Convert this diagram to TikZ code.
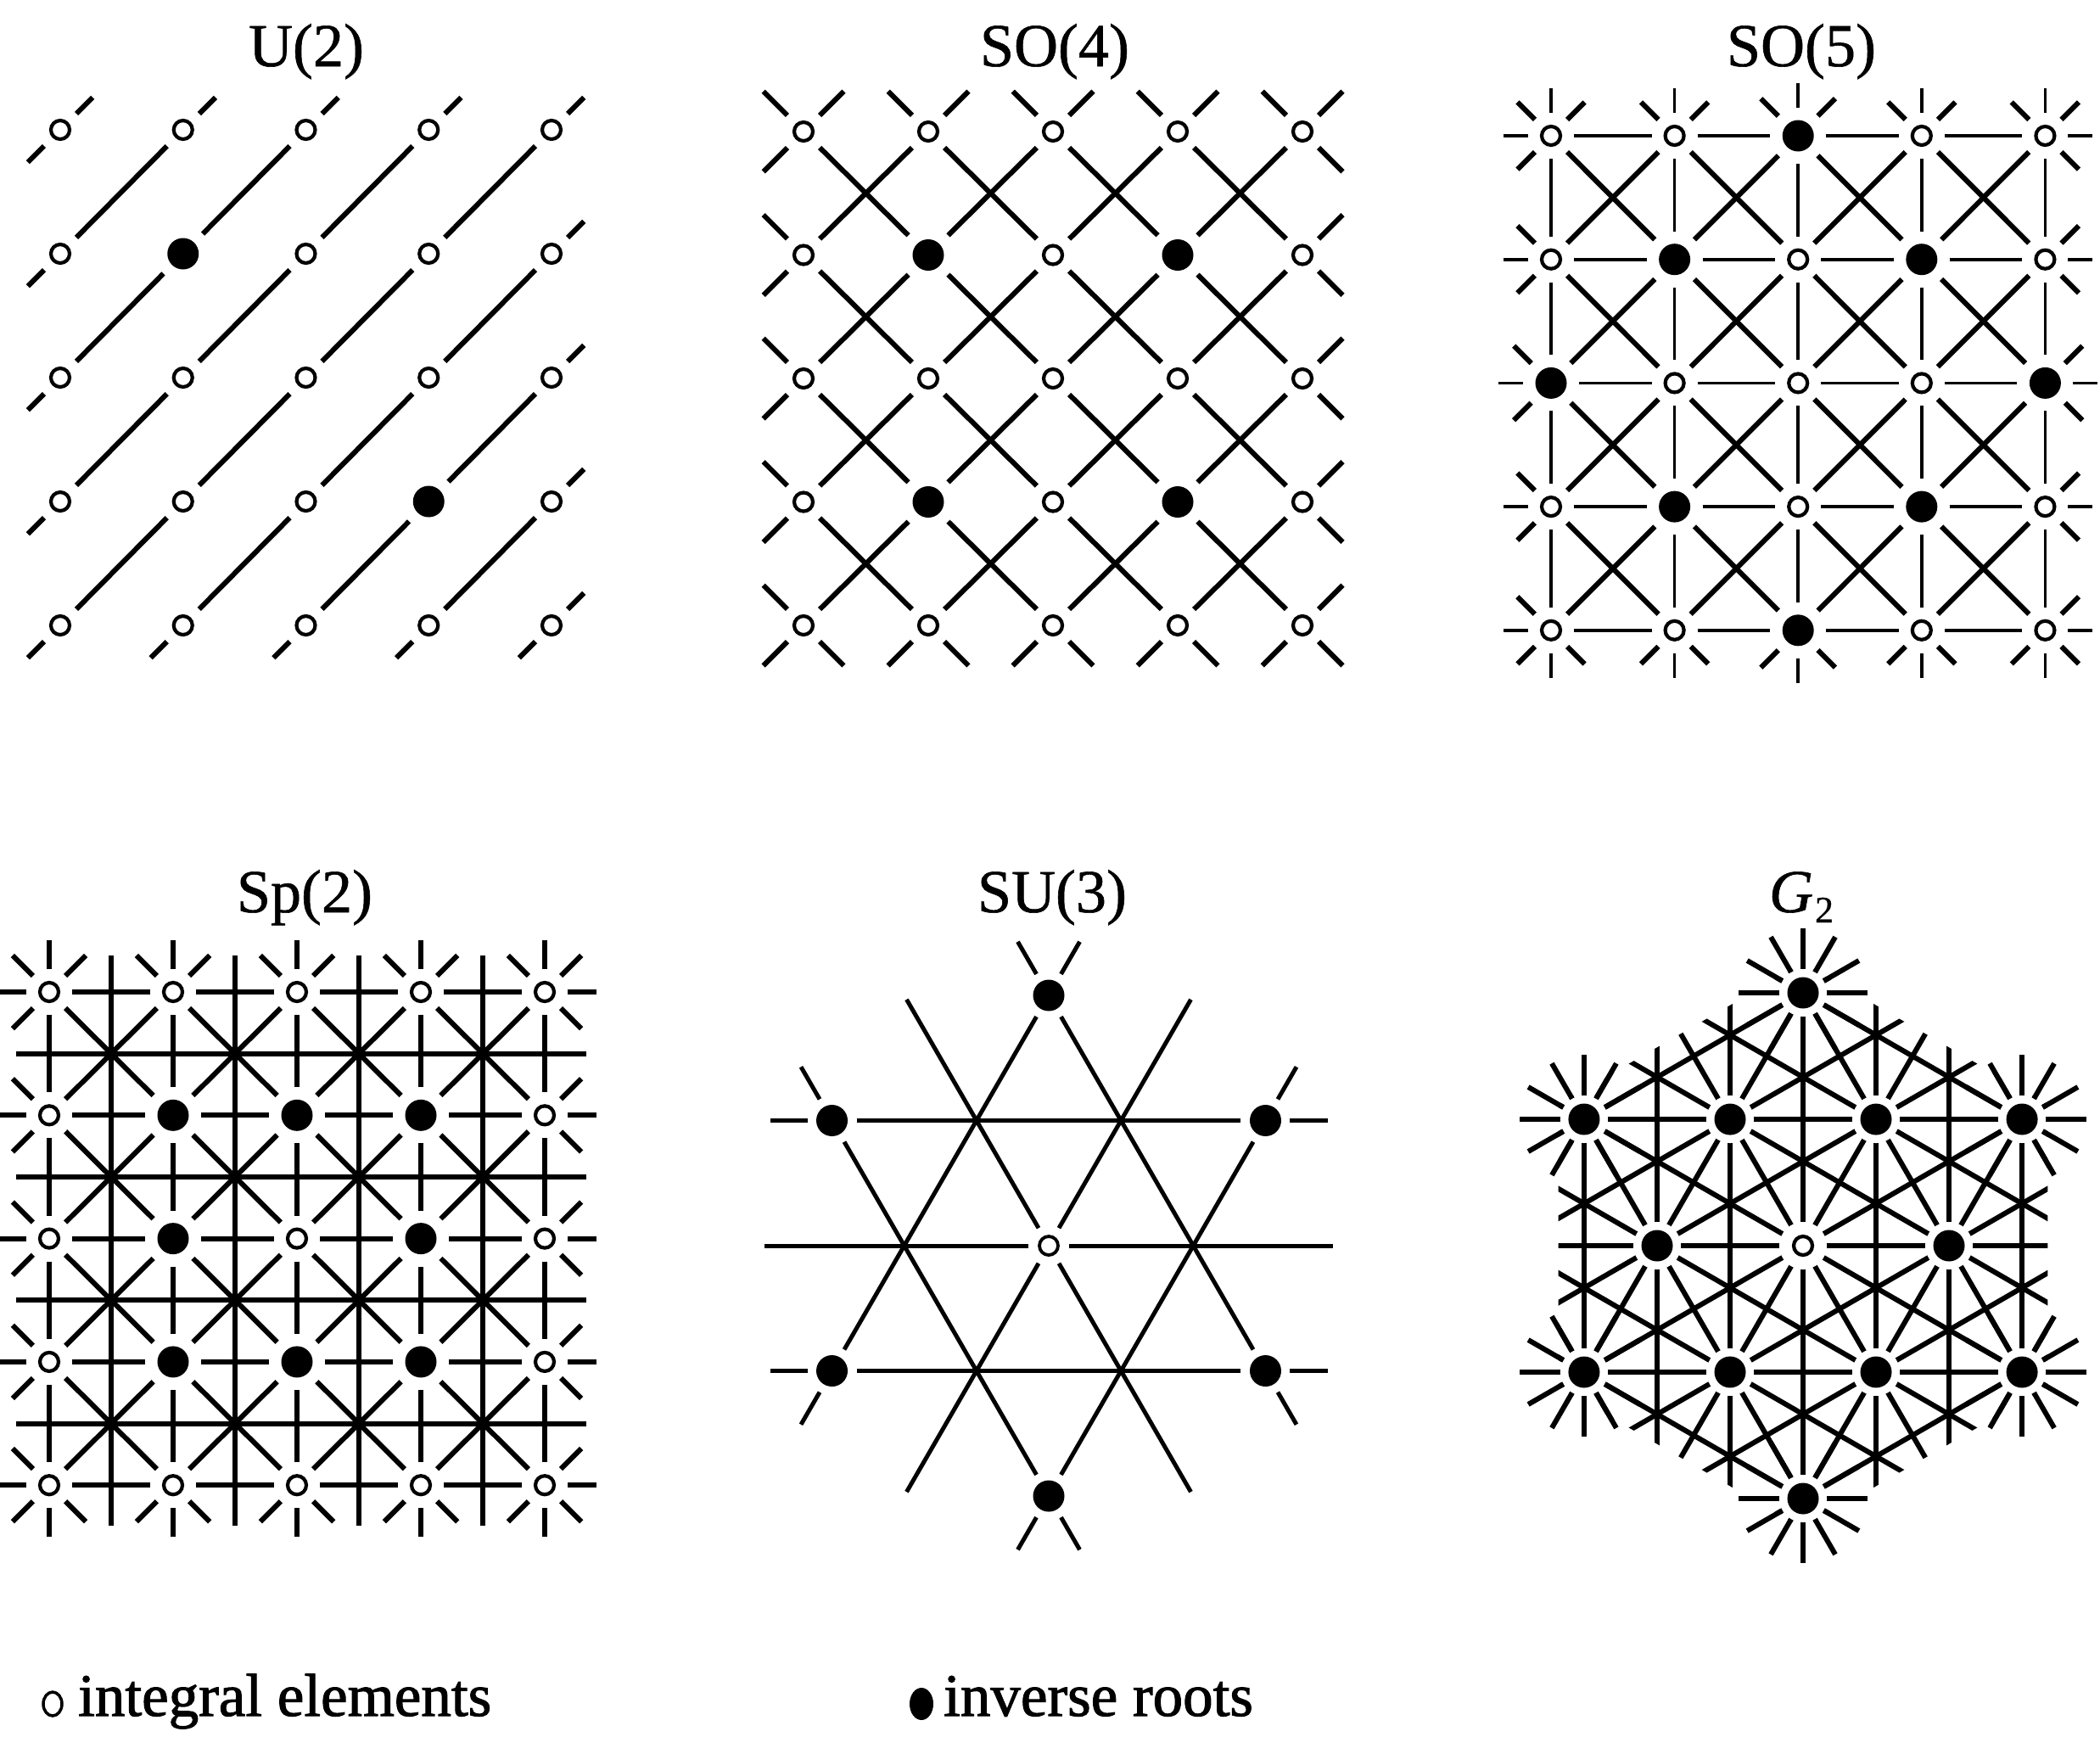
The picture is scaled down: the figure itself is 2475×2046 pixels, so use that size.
\documentclass[tikz,border=0pt]{standalone}
\usepackage{fontspec}
\setmainfont{Liberation Serif}
\newfontfamily\ttlfont{Liberation Serif}[FakeBold=0.8]
\newfontfamily\legfont{Liberation Serif}[FakeBold=1.5]
\usetikzlibrary{calc}
\tikzset{
  lat/.style={circle, minimum size=54pt, inner sep=0pt, outer sep=0pt},
  latf/.style={circle, minimum size=66pt, inner sep=0pt, outer sep=0pt},
  suf/.style={circle, minimum size=58pt, inner sep=0pt, outer sep=0pt},
  suo/.style={circle, minimum size=48pt, inner sep=0pt, outer sep=0pt},
  thk/.style={line width=6pt},
  thn/.style={line width=3.6pt},
  sul/.style={line width=5pt},
  opendot/.style={line width=4.2pt},
  gapw/.style={circle, fill=white, minimum size=56pt, inner sep=0pt},
  ttl/.style={font=\ttlfont\fontsize{72}{86}\selectfont, anchor=base, inner sep=0pt},
  leg/.style={font=\legfont\fontsize{71}{84}\selectfont, anchor=base west, inner sep=0pt},
}
\newcommand\stublen{27}
% prefix, x0, y0, sx, sy, filled list
\newcommand\placelattice[6]{%
  \foreach \i in {0,...,4}{\foreach \j in {0,...,4}{
    \node[lat] (#1-\i-\j) at ({#2+#4*\i},{-(#3+#5*\j)}) {};}}
  \foreach \i/\j in {#6}{
    \node[latf] (#1-\i-\j) at ({#2+#4*\i},{-(#3+#5*\j)}) {};}
}
% prefix, list di/dj/angle/style
\newcommand\latlines[2]{%
  \foreach \i in {0,...,4}{\foreach \j in {0,...,4}{
    \foreach \di/\dj/\ang/\sty in {#2}{
      \pgfmathtruncatemacro\ni{\i+\di}
      \pgfmathtruncatemacro\nj{\j+\dj}
      \pgfmathtruncatemacro\ok{and(and(\ni>-1,\ni<5),and(\nj>-1,\nj<5))}
      \pgfmathtruncatemacro\fwd{or(\di>0,and(\di==0,\dj>0))}
      \ifnum\ok=1
        \ifnum\fwd=1 \draw[\sty] (#1-\i-\j) -- (#1-\ni-\nj);\fi
      \else
        \draw[\sty] (#1-\i-\j.\ang) -- ++(\ang:\stublen);
      \fi
    }}}
}
% prefix, filled list
\newcommand\marklattice[2]{%
  \foreach \i in {0,...,4}{\foreach \j in {0,...,4}{
    \draw[opendot] (#1-\i-\j.center) circle (11);}}
  \foreach \i/\j in {#2}{
    \fill (#1-\i-\j.center) circle (18.5);}
}
\begin{document}
\begin{tikzpicture}[x=1pt,y=1pt]
\useasboundingbox (0,0) rectangle (2475,-2046);

% ---------------- titles
\node[ttl] (t-u2) at (361,-78) {U(2)};
\node[ttl] (t-so4) at (1243,-78) {SO(4)};
\node[ttl] (t-so5) at (2123,-78) {SO(5)};
\node[ttl] (t-sp2) at (359,-1075) {Sp(2)};
\node[ttl] (t-su3) at (1240,-1075) {SU(3)};
\node[ttl] (t-g2) at (2123,-1075) {\textit{G}\kern2pt\raisebox{-12pt}{\fontsize{44}{50}\selectfont 2}};

% ---------------- U(2)
\renewcommand\stublen{27}
\placelattice{A}{71}{153}{144.75}{146}{1/1,3/3}
\latlines{A}{1/-1/45/thk,-1/1/225/thk}
\marklattice{A}{1/1,3/3}

% ---------------- SO(4)
\renewcommand\stublen{40}
\placelattice{B}{947}{155}{147}{145.5}{1/1,3/1,1/3,3/3}
\latlines{B}{1/-1/45/thk,-1/1/225/thk,1/1/315/thk,-1/-1/135/thk}
\marklattice{B}{1/1,3/1,1/3,3/3}

% ---------------- SO(5)
\renewcommand\stublen{29}
\placelattice{C}{1828}{160}{145.6}{145.7}{2/0,1/1,3/1,0/2,4/2,1/3,3/3,2/4}
\latlines{C}{1/-1/45/thk,-1/1/225/thk,1/1/315/thk,-1/-1/135/thk,1/0/0/thn,-1/0/180/thn,0/1/270/thn,0/-1/90/thn}
\marklattice{C}{2/0,1/1,3/1,0/2,4/2,1/3,3/3,2/4}

% ---------------- Sp(2)
\renewcommand\stublen{34}
\foreach \j in {0,...,3}{
  \coordinate (D-h\j-l) at (19,{-(1169+145.3*(\j+0.5))});
  \coordinate (D-h\j-r) at (691,{-(1169+145.3*(\j+0.5))});
  \draw[thk] (D-h\j-l) -- (D-h\j-r);}
\foreach \i in {0,...,3}{
  \coordinate (D-v\i-t) at ({58+146*(\i+0.5)},-1126);
  \coordinate (D-v\i-b) at ({58+146*(\i+0.5)},-1798);
  \draw[thk] (D-v\i-t) -- (D-v\i-b);}
\placelattice{D}{58}{1169}{146}{145.3}{1/1,2/1,3/1,1/2,3/2,1/3,2/3,3/3}
\latlines{D}{1/-1/45/thk,-1/1/225/thk,1/1/315/thk,-1/-1/135/thk,1/0/0/thk,-1/0/180/thk,0/1/270/thk,0/-1/90/thk}
\marklattice{D}{1/1,2/1,3/1,1/2,3/2,1/3,2/3,3/3}

% ---------------- SU(3)
\coordinate (S) at (1236,-1468);
\node[suo] (s-O) at (S) {};
\foreach \a/\nm in {30/UR,90/T,150/UL,210/LL,270/B,330/LR}{
  \node[suf] (s-\nm) at ($(S)+(\a:295)$) {};}
\draw[sul] (s-UL) -- (s-UR);
\draw[sul] (s-LL) -- (s-LR);
\draw[sul] (s-T) -- (s-LL);
\draw[sul] (s-T) -- (s-LR);
\draw[sul] (s-UL) -- (s-B);
\draw[sul] (s-UR) -- (s-B);
\foreach \nm/\a in {UL/180,UL/120,UR/0,UR/60,LL/180,LL/240,LR/0,LR/300,T/60,T/120,B/240,B/300}{
  \draw[sul] (s-\nm.\a) -- ++(\a:44);}
\foreach \a in {0,60,120,180,240,300}{
  \coordinate (s-m\a) at ($(S)+(\a:335)$);
  \draw[sul] (s-m\a) -- (s-O);}
\foreach \nm in {UR,T,UL,LL,B,LR}{\fill (s-\nm.center) circle (18.5);}
\draw[line width=3.8pt] (s-O.center) circle (11);

% ---------------- G2
\coordinate (G) at (2125,-1468);
\begin{scope}
  \clip ($(G)+(30:333)$) -- ($(G)+(90:333)$) -- ($(G)+(150:333)$) -- ($(G)+(210:333)$) -- ($(G)+(270:333)$) -- ($(G)+(330:333)$) -- cycle;
  \foreach \th in {0,60,120}{\foreach \n in {-2,...,2}{
    \draw[thk, shift={(G)}, rotate=\th] (-420,{\n*149}) -- (420,{\n*149});}}
  \foreach \th in {30,90,150}{\foreach \n in {-3,...,3}{
    \draw[thk, shift={(G)}, rotate=\th] (-420,{\n*86}) -- (420,{\n*86});}}
\end{scope}
\node[gapw] (g-O) at (G) {};
\foreach \k in {0,...,5}{
  \pgfmathsetmacro\as{60*\k}
  \pgfmathsetmacro\al{60*\k+30}
  \node[gapw] (g-s\k) at ($(G)+(\as:172)$) {};
  \node[gapw] (g-l\k) at ($(G)+(\al:298)$) {};}
\foreach \k in {0,...,5}{\foreach \r in {0,30,...,330}{
  \draw[thk] ($(g-l\k.center)+(\r:29)$) -- ($(g-l\k.center)+(\r:76)$);}}
\foreach \k in {0,...,5}{
  \fill (g-s\k.center) circle (18.5);
  \fill (g-l\k.center) circle (18.5);}
\draw[opendot] (g-O.center) circle (11);

% ---------------- legend
\draw[line width=3.5pt] (62,-2008) ellipse (11 and 14);
\node[leg] (l-int) at (92,-2022) {integral elements};
\fill (1086,-2008) ellipse (14 and 19);
\node[leg] (l-inv) at (1112,-2022) {inverse roots};
\end{tikzpicture}
\end{document}
